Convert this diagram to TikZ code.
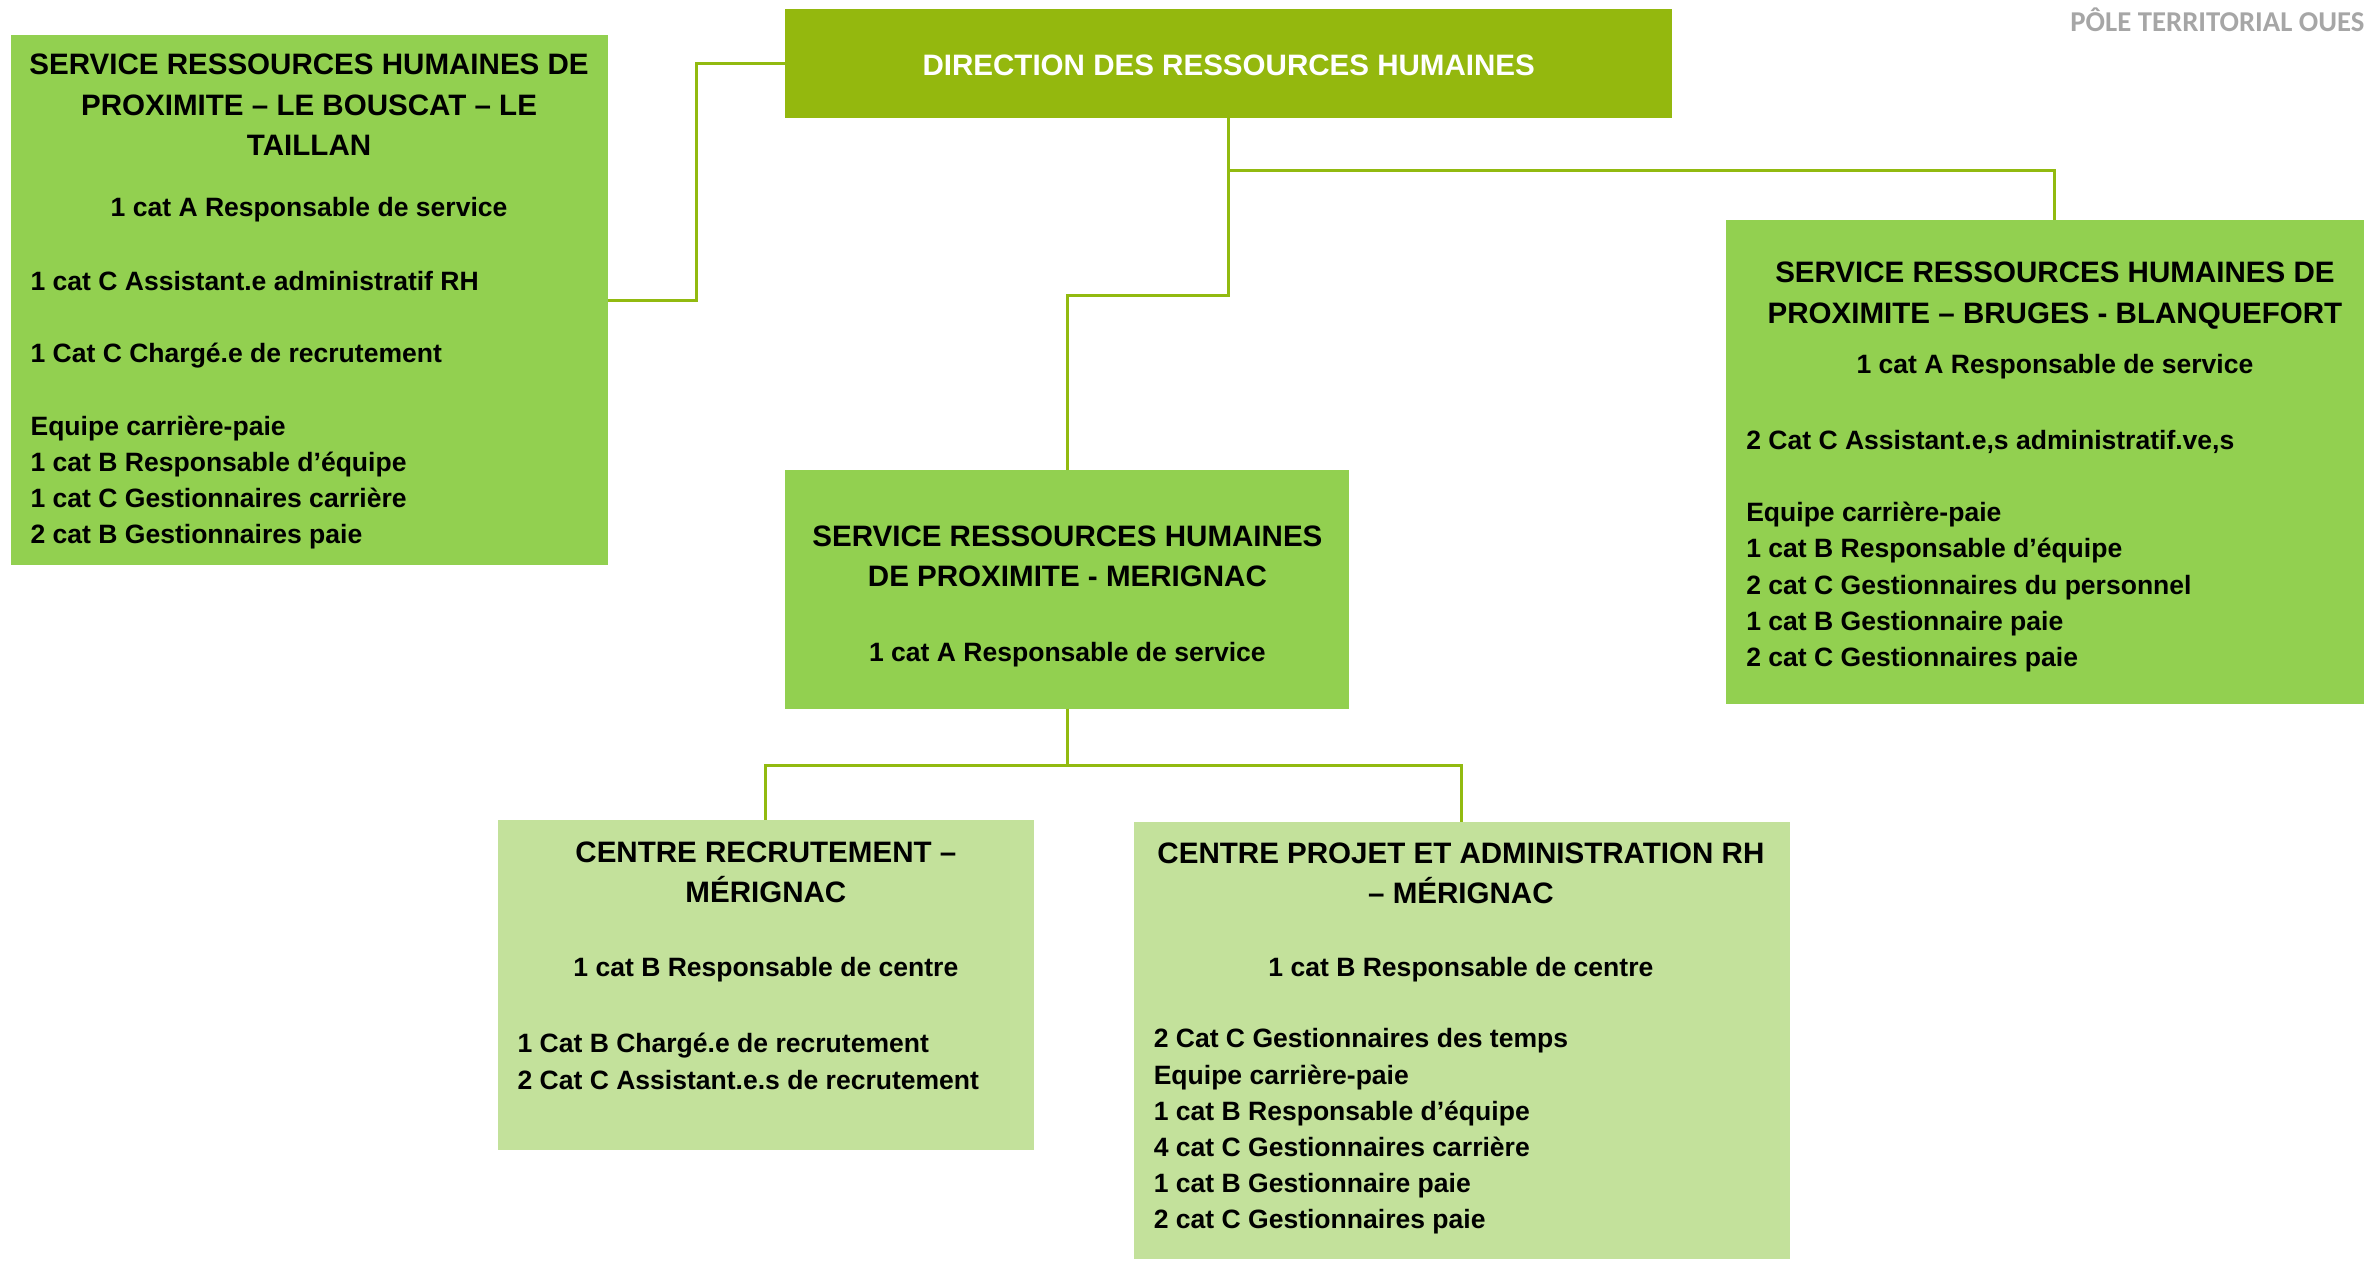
\documentclass[tikz,border=0pt]{standalone}
\usepackage{fontspec}
\setmainfont{Liberation Sans}
\newfontfamily\calibfont{Carlito}
\usetikzlibrary{fit}
\definecolor{boxgreen}{RGB}{146,208,80}
\definecolor{dirgreen}{RGB}{148,184,14}
\definecolor{linegreen}{RGB}{146,186,16}
\definecolor{palegreen}{RGB}{195,225,155}
\definecolor{labelgray}{RGB}{166,166,166}
\tikzset{
  boxnode/.style={inner sep=0pt, outer sep=0pt, draw=none},
  conn/.style={draw=linegreen, line width=1.5pt},
  ttl/.style={font=\bfseries\fontsize{14.7}{20}\selectfont, align=center, inner sep=0pt},
  txt/.style={font=\bfseries\fontsize{13.2}{18}\selectfont, inner sep=0pt},
  lst/.style={txt, align=left, anchor=west}
}
\begin{document}
\begin{tikzpicture}[x=0.75pt,y=-0.75pt]
\path[use as bounding box] (0,0) rectangle (1568,836);
\clip (0,0) rectangle (1568,836);
% boxes
\node[boxnode, fill=dirgreen, fit={(521,6) (1109,78)}] (D) {};
\node[boxnode, fill=boxgreen, fit={(7,23) (403,375)}] (L) {};
\node[boxnode, fill=boxgreen, fit={(521,312) (895,470)}] (M) {};
\node[boxnode, fill=boxgreen, fit={(1145,146) (1581,467)}] (R) {};
\node[boxnode, fill=palegreen, fit={(330,544) (686,763)}] (CR) {};
\node[boxnode, fill=palegreen, fit={(752,545) (1187,835)}] (CP) {};
% connectors
\draw[conn] (D.west) -- (462,42) |- (L.east);
\draw[conn] (D.south) -- ++(0,35) -| (R.north);
\draw[conn] (D.south) -- ++(0,118) -| (M.north);
\draw[conn] (M.south) -- ++(0,38) -| (CR.north);
\draw[conn] (M.south) -- ++(0,38) -| (CP.north);
% label
\node[anchor=west, inner sep=0pt, text=labelgray, font=\calibfont\bfseries\fontsize{14.3}{17}\selectfont] (P) at (1373,13) {PÔLE TERRITORIAL OUEST};
% direction
\node[ttl, text=white] (Dt) at (815,43) {DIRECTION DES RESSOURCES HUMAINES};
% left box
\node[ttl] (Lt) at (205,69.5) {SERVICE RESSOURCES HUMAINES DE\\PROXIMITE – LE BOUSCAT – LE\\TAILLAN};
\node[txt] (La) at (205,139) {1 cat A Responsable de service};
\node[lst] (Ll) at (20,272) {1 cat C Assistant.e administratif RH\\[18pt]1 Cat C Chargé.e de recrutement\\[18pt]Equipe carrière-paie\\1 cat B Responsable d’équipe\\1 cat C Gestionnaires carrière\\2 cat B Gestionnaires paie};
% middle box
\node[ttl] (Mt) at (708,369) {SERVICE RESSOURCES HUMAINES\\DE PROXIMITE - MERIGNAC};
\node[txt] (Ma) at (708,434) {1 cat A Responsable de service};
% right box
\node[ttl] (Rt) at (1363,196) {SERVICE RESSOURCES HUMAINES DE\\PROXIMITE – BRUGES - BLANQUEFORT};
\node[txt] (Ra) at (1363,243) {1 cat A Responsable de service};
\node[lst] (Rl) at (1158,365.5) {2 Cat C Assistant.e,s administratif.ve,s\\[18pt]Equipe carrière-paie\\1 cat B Responsable d’équipe\\2 cat C Gestionnaires du personnel\\1 cat B Gestionnaire paie\\2 cat C Gestionnaires paie};
% centre recrutement
\node[ttl] (CRt) at (508,578.5) {CENTRE RECRUTEMENT –\\MÉRIGNAC};
\node[txt] (CRa) at (508,643) {1 cat B Responsable de centre};
\node[lst] (CRl) at (343,704) {1 Cat B Chargé.e de recrutement\\2 Cat C Assistant.e.s de recrutement};
% centre projet
\node[ttl] (CPt) at (969,579.5) {CENTRE PROJET ET ADMINISTRATION RH\\– MÉRIGNAC};
\node[txt] (CPa) at (969,643) {1 cat B Responsable de centre};
\node[lst] (CPl) at (765,750.5) {2 Cat C Gestionnaires des temps\\Equipe carrière-paie\\1 cat B Responsable d’équipe\\4 cat C Gestionnaires carrière\\1 cat B Gestionnaire paie\\2 cat C Gestionnaires paie};
\end{tikzpicture}
\end{document}
